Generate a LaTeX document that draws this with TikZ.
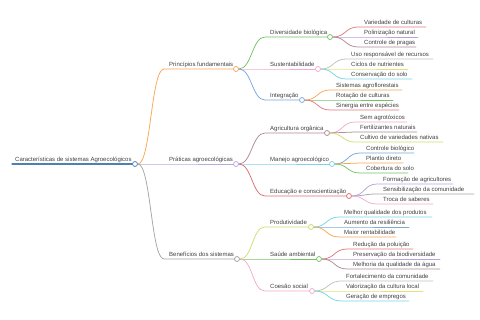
\documentclass[tikz,border=0pt]{standalone}
\usepackage{fontspec}
\setmainfont{Liberation Sans}
\usetikzlibrary{positioning}
\definecolor{cRoot}{HTML}{4A82B8}
\definecolor{cOrange}{HTML}{F7A855}
\definecolor{cLav}{HTML}{BBA8DC}
\definecolor{cGray}{HTML}{A4A4A4}
\definecolor{cGreen}{HTML}{72C462}
\definecolor{cPink}{HTML}{F2ABCD}
\definecolor{cBlue}{HTML}{78A8DC}
\definecolor{cRed}{HTML}{E27A82}
\definecolor{cPurple}{HTML}{B9A2DB}
\definecolor{cMauve}{HTML}{AC8C95}
\definecolor{cLGray}{HTML}{C0C0C0}
\definecolor{cYellow}{HTML}{E3E07A}
\definecolor{cCyan}{HTML}{74D5E5}
\definecolor{cLime}{HTML}{D0DD70}
\definecolor{cSky}{HTML}{80D0EC}
\definecolor{cCrimson}{HTML}{DC6E70}
\definecolor{cText}{HTML}{404040}
\begin{document}
\begin{tikzpicture}[x=1pt,y=-1pt]
\tikzset{
  topic/.style={anchor=base west,inner sep=0pt,text=cText,font=\fontsize{6}{7}\selectfont},
  knob/.style={circle,draw=#1,fill=white,minimum size=5pt,inner sep=0pt,line width=0.75pt},
  branch/.style={draw=#1,line width=0.75pt,line cap=round},
  sigmoid/.style={to path={.. controls +(13,0) and +(-13,0) .. (\tikztotarget)}}
}
\useasboundingbox (0,0) rectangle (480,320);
% root
\coordinate (s_root) at (12,164);
\node[topic] (t_root) at (15,162) {Características de sistemas Agroecológicos};
\node[knob=cRoot] (n_root) at (135,164) {};
\draw[branch=cRoot,line width=1.2pt] (s_root) -- (n_root.west);
% level 1
\coordinate (s_PF) at (164,69);
\coordinate (s_PA) at (164,164);
\coordinate (s_BS) at (164,259);
\node[topic] (t_PF) at (169,67) {Princípios fundamentais};
\node[topic] (t_PA) at (169,162) {Práticas agroecológicas};
\node[topic] (t_BS) at (169,257) {Benefícios dos sistemas};
\node[knob=cOrange] (n_PF) at (236,69) {};
\node[knob=cLav] (n_PA) at (236,164) {};
\node[knob=cGray] (n_BS) at (237,259) {};
\draw[branch=cOrange] (n_root.east) to[sigmoid] (s_PF) -- (n_PF.west);
\draw[branch=cLav] (n_root.east) to[sigmoid] (s_PA) -- (n_PA.west);
\draw[branch=cGray] (n_root.east) to[sigmoid] (s_BS) -- (n_BS.west);
% level 2
\coordinate (s_DB) at (265,37);
\coordinate (s_SU) at (265,69);
\coordinate (s_IN) at (265,100);
\coordinate (s_AO) at (265,133);
\coordinate (s_MA) at (265,164);
\coordinate (s_EC) at (265,196);
\coordinate (s_PR) at (265,227);
\coordinate (s_SA) at (265,259);
\coordinate (s_CS) at (265,291);
\node[topic] (t_DB) at (270,35) {Diversidade biológica};
\node[topic] (t_SU) at (270,67) {Sustentabilidade};
\node[topic] (t_IN) at (270,98) {Integração};
\node[topic] (t_AO) at (270,131) {Agricultura orgânica};
\node[topic] (t_MA) at (270,162) {Manejo agroecológico};
\node[topic] (t_EC) at (270,194) {Educação e conscientização};
\node[topic] (t_PR) at (270,225) {Produtividade};
\node[topic] (t_SA) at (270,257) {Saúde ambiental};
\node[topic] (t_CS) at (270,289) {Coesão social};
\node[knob=cGreen] (n_DB) at (330,37) {};
\node[knob=cPink] (n_SU) at (318,69) {};
\node[knob=cBlue] (n_IN) at (302,100) {};
\node[knob=cMauve] (n_AO) at (327,133) {};
\node[knob=cSky] (n_MA) at (332,164) {};
\node[knob=cCrimson] (n_EC) at (349,196) {};
\node[knob=cLime] (n_PR) at (311,227) {};
\node[knob=cGreen] (n_SA) at (319,259) {};
\node[knob=cPink] (n_CS) at (312,291) {};
\draw[branch=cGreen] (n_PF.east) to[sigmoid] (s_DB) -- (n_DB.west);
\draw[branch=cPink] (n_PF.east) to[sigmoid] (s_SU) -- (n_SU.west);
\draw[branch=cBlue] (n_PF.east) to[sigmoid] (s_IN) -- (n_IN.west);
\draw[branch=cMauve] (n_PA.east) to[sigmoid] (s_AO) -- (n_AO.west);
\draw[branch=cSky] (n_PA.east) to[sigmoid] (s_MA) -- (n_MA.west);
\draw[branch=cCrimson] (n_PA.east) to[sigmoid] (s_EC) -- (n_EC.west);
\draw[branch=cLime] (n_BS.east) to[sigmoid] (s_PR) -- (n_PR.west);
\draw[branch=cGreen] (n_BS.east) to[sigmoid] (s_SA) -- (n_SA.west);
\draw[branch=cPink] (n_BS.east) to[sigmoid] (s_CS) -- (n_CS.west);
% level 3: Diversidade biologica
\coordinate (s_VC) at (358,27);  \coordinate (e_VC) at (426,27);
\coordinate (s_PN) at (358,37);  \coordinate (e_PN) at (418,37);
\coordinate (s_CP) at (358,47);  \coordinate (e_CP) at (416,47);
\node[topic] (t_VC) at (364,25) {Variedade de culturas};
\node[topic] (t_PN) at (364,35) {Polinização natural};
\node[topic] (t_CP) at (364,45) {Controle de pragas};
\draw[branch=cRed] (n_DB.east) to[sigmoid] (s_VC) -- (e_VC);
\draw[branch=cPurple] (n_DB.east) to[sigmoid] (s_PN) -- (e_PN);
\draw[branch=cMauve] (n_DB.east) to[sigmoid] (s_CP) -- (e_CP);
% Sustentabilidade
\coordinate (s_UR) at (346,59);  \coordinate (e_UR) at (433,59);
\coordinate (s_CN) at (346,69);  \coordinate (e_CN) at (408,69);
\coordinate (s_CO) at (346,79);  \coordinate (e_CO) at (412,79);
\node[topic] (t_UR) at (351,57) {Uso responsável de recursos};
\node[topic] (t_CN) at (351,67) {Ciclos de nutrientes};
\node[topic] (t_CO) at (351,77) {Conservação do solo};
\draw[branch=cLGray] (n_SU.east) to[sigmoid] (s_UR) -- (e_UR);
\draw[branch=cYellow] (n_SU.east) to[sigmoid] (s_CN) -- (e_CN);
\draw[branch=cCyan] (n_SU.east) to[sigmoid] (s_CO) -- (e_CO);
% Integracao
\coordinate (s_SF) at (330,90);  \coordinate (e_SF) at (402,90);
\coordinate (s_RC) at (330,100); \coordinate (e_RC) at (393,100);
\coordinate (s_SE) at (330,110); \coordinate (e_SE) at (399,110);
\node[topic] (t_SF) at (336,88) {Sistemas agroflorestais};
\node[topic] (t_RC) at (336,98) {Rotação de culturas};
\node[topic] (t_SE) at (336,108) {Sinergia entre espécies};
\draw[branch=cOrange] (n_IN.east) to[sigmoid] (s_SF) -- (e_SF);
\draw[branch=cGreen] (n_IN.east) to[sigmoid] (s_RC) -- (e_RC);
\draw[branch=cRed] (n_IN.east) to[sigmoid] (s_SE) -- (e_SE);
% Agricultura organica
\coordinate (s_SG) at (355,122); \coordinate (e_SG) at (407,122);
\coordinate (s_FN) at (355,132); \coordinate (e_FN) at (417,132);
\coordinate (s_VN) at (355,142); \coordinate (e_VN) at (443,142);
\node[topic] (t_SG) at (360,120) {Sem agrotóxicos};
\node[topic] (t_FN) at (360,130) {Fertilizantes naturais};
\node[topic] (t_VN) at (360,140) {Cultivo de variedades nativas};
\draw[branch=cPink] (n_AO.east) to[sigmoid] (s_SG) -- (e_SG);
\draw[branch=cMauve] (n_AO.east) to[sigmoid] (s_FN) -- (e_FN);
\draw[branch=cLime] (n_AO.east) to[sigmoid] (s_VN) -- (e_VN);
% Manejo agroecologico
\coordinate (s_CB) at (360,153); \coordinate (e_CB) at (414,153);
\coordinate (s_PD) at (360,163); \coordinate (e_PD) at (403,163);
\coordinate (s_CL) at (360,173); \coordinate (e_CL) at (408,173);
\node[topic] (t_CB) at (366,151) {Controle biológico};
\node[topic] (t_PD) at (366,161) {Plantio direto};
\node[topic] (t_CL) at (366,171) {Cobertura do solo};
\draw[branch=cBlue] (n_MA.east) to[sigmoid] (s_CB) -- (e_CB);
\draw[branch=cOrange] (n_MA.east) to[sigmoid] (s_PD) -- (e_PD);
\draw[branch=cGreen] (n_MA.east) to[sigmoid] (s_CL) -- (e_CL);
% Educacao e conscientizacao
\coordinate (s_FA) at (377,184); \coordinate (e_FA) at (453,184);
\coordinate (s_SC) at (377,194); \coordinate (e_SC) at (474,194);
\coordinate (s_TS) at (377,204); \coordinate (e_TS) at (433,204);
\node[topic] (t_FA) at (383,182) {Formação de agricultores};
\node[topic] (t_SC) at (383,192) {Sensibilização da comunidade};
\node[topic] (t_TS) at (383,202) {Troca de saberes};
\draw[branch=cPurple] (n_EC.east) to[sigmoid] (s_FA) -- (e_FA);
\draw[branch=cGray] (n_EC.east) to[sigmoid] (s_SC) -- (e_SC);
\draw[branch=cPink] (n_EC.east) to[sigmoid] (s_TS) -- (e_TS);
% Produtividade
\coordinate (s_MQ) at (339,217); \coordinate (e_MQ) at (432,217);
\coordinate (s_AR) at (339,227); \coordinate (e_AR) at (409,227);
\coordinate (s_MR) at (339,237); \coordinate (e_MR) at (396,237);
\node[topic] (t_MQ) at (344,215) {Melhor qualidade dos produtos};
\node[topic] (t_AR) at (344,225) {Aumento da resiliência};
\node[topic] (t_MR) at (344,235) {Maior rentabilidade};
\draw[branch=cCyan] (n_PR.east) to[sigmoid] (s_MQ) -- (e_MQ);
\draw[branch=cBlue] (n_PR.east) to[sigmoid] (s_AR) -- (e_AR);
\draw[branch=cOrange] (n_PR.east) to[sigmoid] (s_MR) -- (e_MR);
% Saude ambiental
\coordinate (s_RP) at (347,249); \coordinate (e_RP) at (413,249);
\coordinate (s_PB) at (347,259); \coordinate (e_PB) at (440,259);
\coordinate (s_QA) at (347,269); \coordinate (e_QA) at (440,269);
\node[topic] (t_RP) at (353,247) {Redução da poluição};
\node[topic] (t_PB) at (353,257) {Preservação da biodiversidade};
\node[topic] (t_QA) at (353,267) {Melhoria da qualidade da água};
\draw[branch=cRed] (n_SA.east) to[sigmoid] (s_RP) -- (e_RP);
\draw[branch=cPurple] (n_SA.east) to[sigmoid] (s_PB) -- (e_PB);
\draw[branch=cMauve] (n_SA.east) to[sigmoid] (s_QA) -- (e_QA);
% Coesao social
\coordinate (s_FC) at (341,281); \coordinate (e_FC) at (433,281);
\coordinate (s_VL) at (341,291); \coordinate (e_VL) at (423,291);
\coordinate (s_GE) at (341,301); \coordinate (e_GE) at (409,301);
\node[topic] (t_FC) at (346,279) {Fortalecimento da comunidade};
\node[topic] (t_VL) at (346,289) {Valorização da cultura local};
\node[topic] (t_GE) at (346,299) {Geração de empregos};
\draw[branch=cLGray] (n_CS.east) to[sigmoid] (s_FC) -- (e_FC);
\draw[branch=cYellow] (n_CS.east) to[sigmoid] (s_VL) -- (e_VL);
\draw[branch=cCyan] (n_CS.east) to[sigmoid] (s_GE) -- (e_GE);
\end{tikzpicture}
\end{document}
